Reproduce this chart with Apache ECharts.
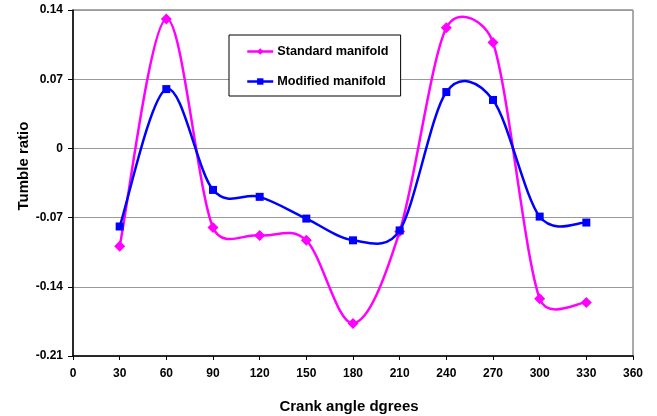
<!DOCTYPE html>
<html>
<head>
<meta charset="utf-8">
<script src="https://cdn.jsdelivr.net/npm/echarts@6/dist/echarts.min.js"></script>
<style>
  html, body { margin: 0; padding: 0; background: #fff; }
  #display { width: 657px; height: 416px; }
</style>
</head>
<body>
<div id="display"></div>
<script>
// crank angle (degrees)
var angles = [30, 60, 90, 120, 150, 180, 210, 240, 270, 300, 330];
// tumble ratio values
var standard = [-0.099, 0.131, -0.080, -0.088, -0.093, -0.177, -0.084, 0.122, 0.107, -0.152, -0.156];
var modified = [-0.079, 0.060, -0.042, -0.049, -0.071, -0.093, -0.083, 0.057, 0.049, -0.069, -0.075];
var seriesNames = ['Standard manifold', 'Modified manifold'];
var colors = ['#ff00ff', '#0000ff'];

function pairs(xs, ys) {
    var res = [];
    for (var i = 0; i < xs.length; i++) {
        res.push([xs[i], ys[i]]);
    }
    return res;
}

// spreadsheet-style smoothed segment between point i and i+1 (pixel space)
function splineRenderer(values, color) {
    return function (params, api) {
        var i = params.dataIndex;
        var n = values.length;
        if (i >= n - 1) return;
        var pt = function (j) {
            j = Math.max(0, Math.min(n - 1, j));
            return api.coord([angles[j], values[j]]);
        };
        var p0 = pt(i - 1), p1 = pt(i), p2 = pt(i + 1), p3 = pt(i + 2);
        var dist = function (a, b) { return Math.sqrt((a[0] - b[0]) * (a[0] - b[0]) + (a[1] - b[1]) * (a[1] - b[1])); };
        var d02 = dist(p0, p2), d13 = dist(p1, p3), d12 = dist(p1, p2);
        var f0 = 1 / 6, f1 = 1 / 6;
        if (d02 / 6 >= d12 / 2 && d02 > 0) f0 = d12 / d02 / 2;
        if (d13 / 6 >= d12 / 2 && d13 > 0) f1 = d12 / d13 / 2;
        return {
            type: 'bezierCurve',
            shape: {
                x1: p1[0], y1: p1[1],
                x2: p2[0], y2: p2[1],
                cpx1: p1[0] + f0 * (p2[0] - p0[0]),
                cpy1: p1[1] + f0 * (p2[1] - p0[1]),
                cpx2: p2[0] - f1 * (p3[0] - p1[0]),
                cpy2: p2[1] - f1 * (p3[1] - p1[1])
            },
            style: { stroke: color, lineWidth: 2.5, fill: null }
        };
    };
}

var labelFont = {
    fontFamily: 'Liberation Sans, Arial',
    fontWeight: 'bold',
    color: '#000'
};

var chartDom = document.getElementById('display');
var myChart = echarts.init(chartDom);
var option;
option = {
    animation: false,
    grid: {
        left: 73,
        right: 24,
        top: 10,
        bottom: 60,
        outerBoundsMode: 'none',
        show: true,
        borderColor: '#555',
        borderWidth: 1
    },
    legend: {
        data: [
            { name: seriesNames[0], lineStyle: { opacity: 1, width: 2.5, color: colors[0] } },
            { name: seriesNames[1], lineStyle: { opacity: 1, width: 2.5, color: colors[1] } }
        ],
        orient: 'vertical',
        left: 229,
        top: 35,
        width: 172,
        padding: [10, 12, 8, 17],
        itemGap: 17,
        itemWidth: 26,
        itemHeight: 8,
        backgroundColor: '#fff',
        borderColor: '#000',
        borderWidth: 1,
        borderRadius: 0,
        textStyle: Object.assign({ fontSize: 12.7, padding: [0, 0, 0, -1] }, labelFont)
    },
    xAxis: {
        type: 'value',
        min: 0,
        max: 360,
        interval: 30,
        name: 'Crank angle dgrees',
        nameLocation: 'middle',
        nameGap: 43,
        nameMoveOverlap: false,
        nameTextStyle: Object.assign({ fontSize: 15, padding: [0, 8, 0, 0] }, labelFont),
        axisLine: { show: true, onZero: false, lineStyle: { color: '#000', width: 1.5 } },
        axisTick: { show: true, length: 4, lineStyle: { color: '#000' } },
        axisLabel: Object.assign({ fontSize: 12, margin: 12 }, labelFont),
        splitLine: { show: false }
    },
    yAxis: {
        type: 'value',
        min: -0.21,
        max: 0.14,
        interval: 0.07,
        name: 'Tumble ratio',
        nameLocation: 'middle',
        nameGap: 42,
        nameMoveOverlap: false,
        nameTextStyle: Object.assign({ fontSize: 15, padding: [0, 0, 0, 34] }, labelFont),
        axisLine: { show: true, onZero: false, lineStyle: { color: '#000', width: 1.5 } },
        axisTick: { show: true, length: 5, lineStyle: { color: '#000' } },
        axisLabel: Object.assign({
            fontSize: 12,
            margin: 10,
            formatter: function (v) {
                var r = Math.round(v * 100) / 100;
                return r === 0 ? '0' : r.toFixed(2);
            }
        }, labelFont),
        splitLine: { show: true, lineStyle: { color: '#999', width: 1 } }
    },
    series: [
        {
            name: 'standard-curve',
            type: 'custom',
            data: pairs(angles, standard),
            renderItem: splineRenderer(standard, colors[0]),
            silent: true
        },
        {
            name: 'modified-curve',
            type: 'custom',
            data: pairs(angles, modified),
            renderItem: splineRenderer(modified, colors[1]),
            silent: true
        },
        {
            name: seriesNames[0],
            type: 'line',
            data: pairs(angles, standard),
            symbol: 'diamond',
            symbolSize: 11,
            itemStyle: { color: colors[0] },
            lineStyle: { color: colors[0], width: 2.5, opacity: 0 }
        },
        {
            name: seriesNames[1],
            type: 'line',
            data: pairs(angles, modified),
            symbol: 'rect',
            symbolSize: 8,
            itemStyle: { color: colors[1] },
            lineStyle: { color: colors[1], width: 2.5, opacity: 0 }
        }
    ]
};
option && myChart.setOption(option);
</script>
</body>
</html>
